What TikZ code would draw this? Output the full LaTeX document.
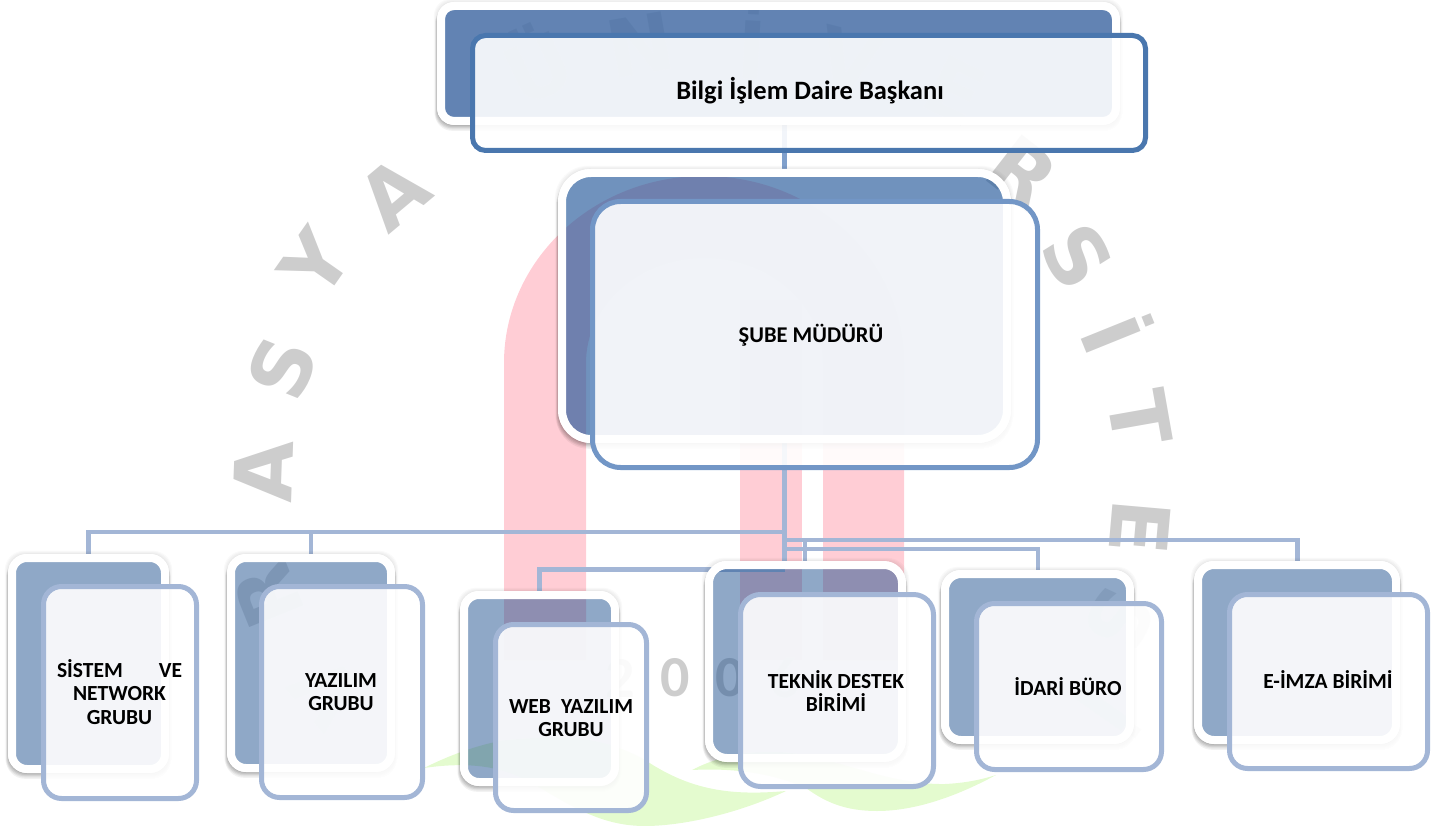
\documentclass[tikz,border=0pt]{standalone}
\usepackage{fontspec}
\setmainfont{Carlito}
\newfontfamily\wmfont{DejaVu Sans}
\pgfdeclarelayer{wm}
\pgfdeclarelayer{conn}
\pgfsetlayers{wm,conn,main}
\definecolor{pinkred}{HTML}{FFCDD5}
\definecolor{leaf}{HTML}{E4FBCF}
\definecolor{wmgrey}{HTML}{CDCDCD}
\definecolor{backtop}{HTML}{1F4F93}
\definecolor{backmid}{HTML}{1F5598}
\definecolor{backsmall}{HTML}{1F518F}
\definecolor{edgetop}{HTML}{4A77AE}
\definecolor{edgemid}{HTML}{7296C6}
\definecolor{edgesmall}{HTML}{A3B6D6}
\tikzset{
  x=1pt,y=-1pt,
  backshape/.style={rectangle,draw=white,line width=8pt,inner sep=0pt,outer sep=0pt},
  frontshape/.style={rectangle,fill=white,fill opacity=.9,line width=5pt,inner sep=0pt,outer sep=0pt},
  wmletter/.style={text=wmgrey,font=\wmfont\bfseries\fontsize{80}{80}\selectfont,inner sep=0pt},
  wmfaint/.style={wmletter,text=wmgrey!45},
  wmdigit/.style={text=wmgrey,font=\bfseries\fontsize{58}{58}\selectfont,inner sep=0pt},
  busline/.style={draw=edgesmall,line width=4.5pt,line join=miter},
  toplink/.style={draw=edgemid!90,line width=5pt},
  label/.style={align=center,inner sep=0pt,text=black,font=\bfseries\fontsize{21.5}{23.5}\selectfont},
}
% name, inner x0,y0,x1,y1, radius, colour, opacity
\newcommand{\backbox}[8]{%
  \pgfmathsetmacro{\bcx}{(#2+#4)/2}\pgfmathsetmacro{\bcy}{(#3+#5)/2}%
  \pgfmathsetmacro{\bw}{#4-#2+8}\pgfmathsetmacro{\bh}{#5-#3+8}%
  \pgfmathsetmacro{\brad}{#6+4}%
  \begin{scope}[even odd rule,rounded corners=\brad pt+4pt]
    \clip (0,0) rectangle (1454,826) (#2-8,#3-8) rectangle (#4+8,#5+8);
    \foreach \d in {0.8,1.6,2.4,3.2}{
      \fill[black,opacity=.018] (#2-8-\d,#3-8-\d) rectangle (#4+8+\d,#5+8+\d);
    }
    \foreach \d in {0,1,2,3,4}{
      \fill[black,opacity=.05]
        (#2-8-\d*0.5,#3-4) rectangle (#4+8+\d*0.4,#5+8+\d*1.2+1);
    }
  \end{scope}
  \node[backshape,rounded corners=\brad pt,fill=#7,fill opacity=#8,draw opacity=1,
    minimum width=\bw pt,minimum height=\bh pt] (#1) at (\bcx,\bcy) {};%
}
% name, outer x0,y0,x1,y1, radius, colour
\newcommand{\frontbox}[7]{%
  \pgfmathsetmacro{\bcx}{(#2+#4)/2}\pgfmathsetmacro{\bcy}{(#3+#5)/2}%
  \pgfmathsetmacro{\bw}{#4-#2-5}\pgfmathsetmacro{\bh}{#5-#3-5}%
  \node[frontshape,rounded corners=#6 pt,draw=#7,
    minimum width=\bw pt,minimum height=\bh pt] (#1) at (\bcx,\bcy) {};%
}
\begin{document}
\begin{tikzpicture}
\useasboundingbox (0,0) rectangle (1454,826);

% ---- watermark under everything
\begin{pgfonlayer}{wm}
  \fill[pinkred,even odd rule] (504,660) -- (504,363)
    .. controls (504,260) and (593.5,176) .. (704,176)
    .. controls (814.5,176) and (904,260) .. (904,363)
    -- (904,660) -- (823,660) -- (823,363)
    .. controls (823,305) and (770,258) .. (704.5,258)
    .. controls (639,258) and (586,305) .. (586,363)
    -- (586,660) -- cycle;
  \fill[pinkred] (740,300) rectangle (802,660);
  \fill[leaf] (424,768) .. controls (450,755) and (475,746) .. (500,741)
    .. controls (560,735) and (600,735) .. (645,760)
    .. controls (690,790) and (730,796) .. (786,791)
    .. controls (735,815) and (680,826) .. (645,826)
    .. controls (600,826) and (570,805) .. (530,782)
    .. controls (500,765) and (465,762) .. (424,768) -- cycle;
  \fill[leaf] (692,770) .. controls (715,758) and (740,752) .. (770,752)
    .. controls (830,752) and (880,785) .. (945,784)
    .. controls (965,783) and (980,780) .. (996,775)
    .. controls (950,800) and (910,811) .. (877,811)
    .. controls (845,811) and (825,802) .. (806,788)
    .. controls (770,772) and (730,768) .. (692,770) -- cycle;
  \node[wmletter,rotate=88] (w1) at (263,472) {A};
  \node[wmletter,rotate=68] (w2) at (282,368) {S};
  \node[wmletter,rotate=55] (w3) at (315,263) {Y};
  \node[wmletter,rotate=40] (w4) at (393,193) {A};
  \node[wmfaint,rotate=25] (w5) at (535,62) {Ü};
  \node[wmfaint,rotate=10] (w6) at (640,45) {N};
  \node[wmfaint,rotate=-3] (w7) at (752,42) {İ};
  \node[wmfaint,rotate=-14] (w8) at (850,60) {V};
  \node[wmfaint,rotate=-26] (w9) at (955,90) {E};
  \node[wmletter,rotate=-38] (w10) at (1023,172) {R};
  \node[wmletter,rotate=-58] (w11) at (1077,257) {S};
  \node[wmletter,rotate=-68] (w12) at (1118,332) {İ};
  \node[wmletter,rotate=-80] (w13) at (1140,418) {T};
  \node[wmletter,rotate=-95] (w14) at (1140,527) {E};
  \node[wmfaint,rotate=-115] (w15) at (1120,620) {S};
  \node[wmfaint,rotate=-125] (w16) at (1108,713) {İ};
  \node[wmfaint,text=wmgrey!70,rotate=112] (w17) at (268,595) {R};
  \node[wmfaint,text=wmgrey!30,rotate=130] (w18) at (327,693) {V};
  \node[wmdigit] (d1) at (620,678) {2};
  \node[wmdigit] (d2) at (675,678) {0};
  \node[wmdigit] (d3) at (730,678) {0};
  \node[wmdigit,text=wmgrey!60] (d4) at (785,678) {6};
\end{pgfonlayer}

% ---- boxes
\backbox{topback}{445}{10}{1112}{117}{9}{backtop}{.70}
\frontbox{topfront}{470}{33}{1148}{153}{13}{edgetop}
\backbox{midback}{566}{177}{1003}{435}{25}{backmid}{.64}
\frontbox{midfront}{590}{199}{1040}{470}{28}{edgemid}

\backbox{sysback}{16}{562}{161}{765}{11}{backsmall}{.5}
\frontbox{sysfront}{41}{584}{199}{801}{18}{edgesmall}
\backbox{yazback}{235}{562}{387}{764}{11}{backsmall}{.5}
\frontbox{yazfront}{259}{584}{425}{800}{18}{edgesmall}
\backbox{webback}{468}{599}{611}{778}{11}{backsmall}{.5}
\frontbox{webfront}{493}{622}{649}{813}{18}{edgesmall}
\backbox{tekback}{713}{569}{898}{754}{14}{backsmall}{.5}
\frontbox{tekfront}{738}{592}{936}{789}{20}{edgesmall}
\backbox{idaback}{949}{578}{1126}{736}{12}{backsmall}{.5}
\frontbox{idafront}{974}{601}{1164}{772}{18}{edgesmall}
\backbox{imzback}{1202}{569}{1392}{736}{12}{backsmall}{.5}
\frontbox{imzfront}{1227}{592}{1430}{771}{18}{edgesmall}

% ---- texts
\node[label,font=\bfseries\fontsize{26.5}{30}\selectfont] (ttop) at (810,91) {Bilgi İşlem Daire Başkanı};
\node[label,font=\bfseries\fontsize{22.5}{25}\selectfont] (tmid) at (811,335) {ŞUBE MÜDÜRÜ};
\node[label] (tsys) at (119.5,692) {SİSTEM\hspace{36pt}VE\\NETWORK\\GRUBU};
\node[label] (tyaz) at (341,692) {YAZILIM\\GRUBU};
\node[label] (tweb) at (571,718) {WEB\hspace{10pt}YAZILIM\\GRUBU};
\node[label] (ttek) at (836,691) {TEKNİK DESTEK\\BİRİMİ};
\node[label] (tida) at (1068,687) {İDARİ BÜRO};
\node[label] (timz) at (1328,680) {E-İMZA BİRİMİ};

% ---- connectors, under the boxes
\coordinate (bus) at (784.5,500);
\coordinate (bussub) at (805,500);
\begin{pgfonlayer}{conn}
  \draw[toplink] (bus |- topback.south) -- (bus |- midback.north);
  \draw[busline] (bus |- midback.south) -- (bus |- tekback.north);
  \draw[busline] (bus |- 0,532) -| (sysback.north);
  \draw[busline] (bus |- 0,532) -| (yazback.north);
  \draw[busline] (bus |- 0,569.5) -| (webback.north);
  \draw[busline] (bus |- 0,540) -| (bussub |- tekback.north);
  \draw[busline] (bus |- 0,549) -| (1038,0 |- idaback.north);
  \draw[busline] (bus |- 0,540) -| (1297.5,0 |- imzback.north);
\end{pgfonlayer}
\end{tikzpicture}
\end{document}
